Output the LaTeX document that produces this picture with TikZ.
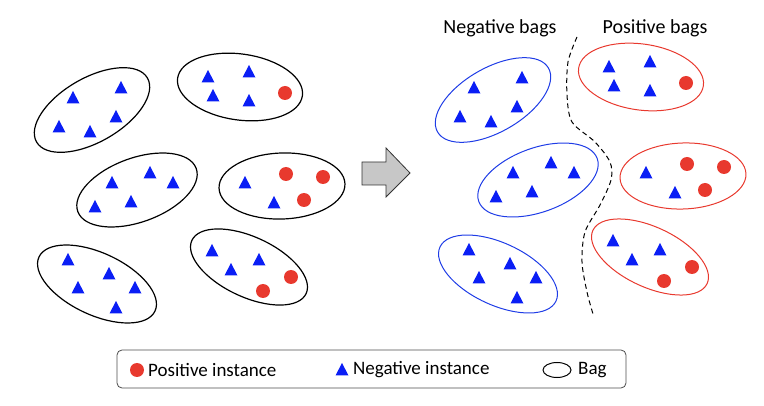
\documentclass[tikz,border=0pt]{standalone}
\usepackage{fontspec}
\setmainfont{Carlito}
\usepackage{tikz}
\usetikzlibrary{arrows.meta,positioning,calc}
\usepackage{xcolor}
\definecolor{negblue}{HTML}{0A1EF5}
\definecolor{posred}{HTML}{E8392E}
\definecolor{bagblue}{HTML}{1E3CE6}

% one blue triangle / one red dot, centred at the given point
\newcommand{\negtri}[1]{\fill[negblue] (#1) ++(0,-7) -- ++(6.5,12.5) -- ++(-13,0) -- cycle;}
\newcommand{\posdot}[1]{\fill[posred] (#1) circle (7);}

\begin{document}
\begin{tikzpicture}[x=1pt,y=-1pt]
  \useasboundingbox (0,0) rectangle (764,406);
  \tikzset{lbl/.style={font=\fontsize{19}{22}\selectfont,inner sep=0pt},
           ttl/.style={font=\fontsize{20}{24}\selectfont,inner sep=0pt}}

  % left: mixed bags, right: the same bags split by label
  \foreach \dx/\dy/\ca/\cb/\lw in {0/0/black/black/1.2pt, 401/-10/bagblue/posred/1pt} {
    \begin{scope}[shift={(\dx,\dy)}]
      \draw[\ca,line width=\lw,rotate around={30:(92,110)}] (92,110) ellipse (64 and 32);
      \negtri{73,98} \negtri{121,88} \negtri{59,127} \negtri{90,132} \negtri{116,117}

      \draw[\cb,line width=\lw,rotate around={-8:(240,87)}] (240,87) ellipse (63 and 33);
      \negtri{208,77} \negtri{249,72} \negtri{213,96} \negtri{249,101}
      \posdot{285,93}

      \draw[\ca,line width=\lw,rotate around={20:(137,190)}] (137,190) ellipse (63 and 32);
      \negtri{112,183} \negtri{150,173} \negtri{173,183} \negtri{95,207} \negtri{131,202}

      \draw[\cb,line width=\lw,rotate around={2:(282,186)}] (282,186) ellipse (63 and 33);
      \negtri{245,183} \negtri{274,203}
      \posdot{286,174} \posdot{323,177} \posdot{304,200}

      \draw[\ca,line width=\lw,rotate around={-25:(97,284)}] (97,284) ellipse (64 and 31);
      \negtri{68,260} \negtri{109,274} \negtri{78,288} \negtri{135,288} \negtri{116,308}

      \draw[\cb,line width=\lw,rotate around={-25:(249,267)}] (249,267) ellipse (63 and 30);
      \negtri{212,251} \negtri{259,260} \negtri{231,270}
      \posdot{291,277} \posdot{263,291}
    \end{scope}
  }

  % arrow between the two halves
  \draw[black!80,fill=black!22,line width=0.8pt]
    (362,162) -- (386,162) -- (386,148) -- (410,173) -- (386,197) -- (386,185) -- (362,185) -- cycle;

  % separating curve
  \draw[dash pattern=on 5pt off 3.5pt,line width=1pt] plot[smooth] coordinates {(577,37) (568,62) (567,95) (572,122)
    (595,142) (610,162) (611,180) (600,205) (585,232) (582,262) (587,292) (593,314)};

  \node[ttl] (negtitle) at (500,28) {Negative bags};
  \node[ttl] (postitle) at (655,28) {Positive bags};

  % legend
  \draw[black!70,line width=0.8pt,rounded corners=5pt] (117,350) rectangle (626,388);
  \posdot{137,370}
  \node[lbl,anchor=west] (posleg) at (148,370) {Positive instance};
  \negtri{342,370}
  \node[lbl,anchor=west] (negleg) at (353,370) {Negative instance};
  \draw[line width=1pt] (557,370) ellipse (14 and 7.5);
  \node[lbl,anchor=west] (bagleg) at (578,370) {Bag};
\end{tikzpicture}
\end{document}
